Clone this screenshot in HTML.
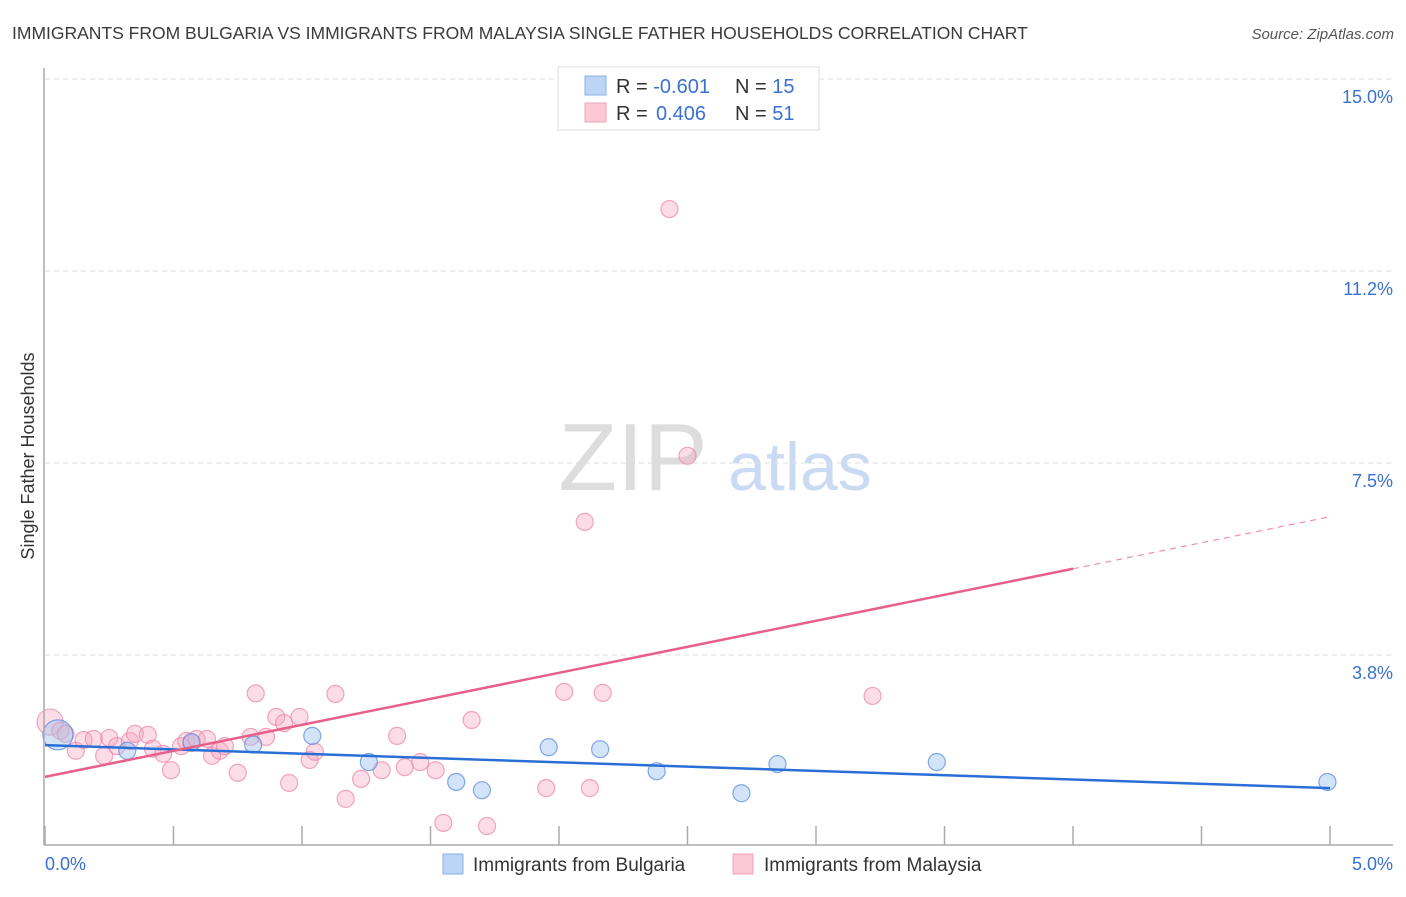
<!DOCTYPE html>
<html><head><meta charset="utf-8"><style>
body{margin:0;background:#fff;font-family:"Liberation Sans",sans-serif}
svg text{font-family:"Liberation Sans",sans-serif}
</style></head><body>
<svg id="c" width="1406" height="892" xmlns="http://www.w3.org/2000/svg">
<text x="12" y="39" font-size="17.5" fill="#3a3a3a">IMMIGRANTS FROM BULGARIA VS IMMIGRANTS FROM MALAYSIA SINGLE FATHER HOUSEHOLDS CORRELATION CHART</text>
<text x="1394" y="39" font-size="15" font-style="italic" fill="#555" text-anchor="end">Source: ZipAtlas.com</text>
<text x="633" y="490" font-size="96" fill="#ddd" font-family="Liberation Serif" text-anchor="middle">ZIP</text>
<text x="800" y="490" font-size="68" fill="#c9daf2" text-anchor="middle">atlas</text>
<text x="34" y="456" font-size="18" fill="#333" text-anchor="middle" transform="rotate(-90 34 456)">Single Father Households</text>
<g id="grid"></g><g id="pts"></g><g id="lines"></g>
<line x1="44" y1="68" x2="44" y2="845" stroke="#aaa" stroke-width="1.5"/>
<line x1="44" y1="845" x2="1393" y2="845" stroke="#aaa" stroke-width="1.5"/>
<g>
<rect x="558" y="67" width="261" height="63" fill="#fff" stroke="#ddd"/>
<rect x="585" y="76" width="21" height="19" fill="#bcd4f5" stroke="#8ab0e8"/>
<rect x="585" y="103" width="21" height="19" fill="#fcc8d6" stroke="#f0a0b8"/>
<text x="616" y="93" font-size="20" fill="#333">R = <tspan fill="#3a70d0">-0.601</tspan><tspan x="735">N = </tspan><tspan fill="#3a70d0">15</tspan></text>
<text x="616" y="120" font-size="20" fill="#333">R = <tspan fill="#3a70d0" x="656">0.406</tspan><tspan x="735">N = </tspan><tspan fill="#3a70d0">51</tspan></text>
</g>
<g>
<rect x="443" y="854" width="20" height="20" fill="#bcd4f5" stroke="#8ab0e8"/>
<text x="473" y="871" font-size="19" fill="#333">Immigrants from Bulgaria</text>
<rect x="733" y="854" width="20" height="20" fill="#fcc8d6" stroke="#f0a0b8"/>
<text x="764" y="871" font-size="19" fill="#333">Immigrants from Malaysia</text>
</g>
</svg>
<script>
const yTicks=[15.0,11.25,7.5,3.75];
const yTickLabels=["15.0%","11.2%","7.5%","3.8%"];
const xTickLabels=["0.0%","5.0%"];
const bulgariaX=[0.05,0.32,0.57,0.81,1.04,1.26,1.6,1.7,1.96,2.16,2.38,2.71,2.85,3.47,4.99];
const bulgariaY=[2.19,1.88,2.05,2.0,2.17,1.66,1.27,1.11,1.95,1.91,1.48,1.05,1.62,1.66,1.27];
const bulgariaSize=[15,8.5,8.5,8.5,8.5,8.5,8.5,8.5,8.5,8.5,8.5,8.5,8.5,8.5,8.5];
const malaysiaX=[0.02,0.06,0.08,0.12,0.15,0.19,0.23,0.25,0.28,0.33,0.35,0.40,0.42,0.46,0.49,0.53,0.55,0.57,0.59,0.63,0.65,0.68,0.70,0.75,0.80,0.82,0.86,0.90,0.93,0.95,0.99,1.03,1.05,1.13,1.17,1.23,1.31,1.37,1.40,1.46,1.52,1.55,1.66,1.72,1.95,2.02,2.10,2.12,2.17,2.43,2.50,3.22];
const malaysiaY=[2.44,2.27,2.21,1.88,2.09,2.11,1.78,2.13,1.97,2.07,2.21,2.19,1.92,1.82,1.5,1.97,2.07,2.03,2.11,2.11,1.78,1.88,1.97,1.45,2.15,3.0,2.15,2.54,2.42,1.25,2.54,1.7,1.86,2.99,0.94,1.33,1.5,2.17,1.56,1.66,1.5,0.47,2.48,0.41,1.15,3.03,6.35,1.15,3.01,12.46,7.64,2.95];
const malaysiaSize=[13];
const bluTrend=[1.99,1.15];
const pinkTrend=[1.37,6.45];
const X0=45,XS=257,Y0=847,YS=51.2;
const sx=v=>X0+v*XS, sy=v=>Y0-v*YS;
const NS="http://www.w3.org/2000/svg";
function mk(tag,parent,attrs){const e=document.createElementNS(NS,tag);for(const k in attrs)e.setAttribute(k,attrs[k]);document.getElementById(parent).appendChild(e);return e;}
yTicks.forEach((t,i)=>{
 const l=mk('line','grid',{x1:45,x2:1393,y1:sy(t),y2:sy(t),stroke:'#ddd','stroke-dasharray':'5,4'});
 
 
 const tx=mk('text','grid',{x:1393,y:sy(t)+24,'font-size':18,fill:'#3a70d0','text-anchor':'end'});
 tx.textContent=yTickLabels[i];
 
 
});
for(let i=0;i<=10;i++){
 const l=mk('line','grid',{x1:sx(i*0.5),x2:sx(i*0.5),y1:826,y2:845,stroke:'#aaa','stroke-width':1.5});
 
 
}
[[0,45,'start'],[5,1393,'end']].forEach((d,i)=>{
 const t=mk('text','grid',{x:d[1],y:870,'font-size':18,fill:'#3a70d0','text-anchor':d[2]});
 t.textContent=xTickLabels[i];
 
 
});
malaysiaX.forEach((v,i)=>{
 const c=mk('circle','pts',{cx:sx(v),cy:sy(malaysiaY[i]),r:i===0?13:8.5,fill:'rgba(248,170,195,0.4)',stroke:'rgba(235,130,165,0.7)','stroke-width':1.2});
 
 
});
bulgariaX.forEach((v,i)=>{
 const c=mk('circle','pts',{cx:sx(v),cy:sy(bulgariaY[i]),r:bulgariaSize[i],fill:'rgba(160,195,240,0.45)',stroke:'rgba(90,140,220,0.75)','stroke-width':1.2});
 
 
});
const b=mk('line','lines',{x1:sx(0),y1:sy(bluTrend[0]),x2:sx(5),y2:sy(bluTrend[1]),stroke:'#2a6fd6','stroke-width':2.5});


const pAt=x=>pinkTrend[0]+(pinkTrend[1]-pinkTrend[0])*x/5;
const p=mk('line','lines',{x1:sx(0),y1:sy(pAt(0)),x2:sx(4),y2:sy(pAt(4)),stroke:'#e8608a','stroke-width':2.5});


const pd=mk('line','lines',{x1:sx(4),y1:sy(pAt(4)),x2:sx(5),y2:sy(pAt(5)),stroke:'#e8608a','stroke-width':1.2,'stroke-dasharray':'6,5','opacity':0.7});


</script>
</body></html>
